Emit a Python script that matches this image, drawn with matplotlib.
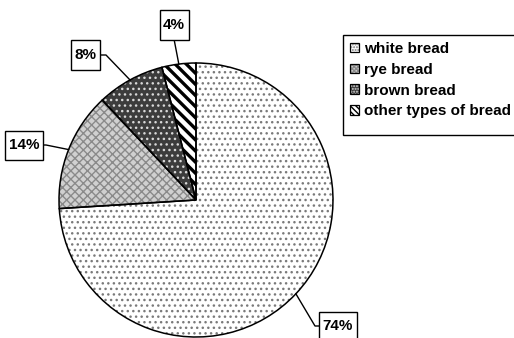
import numpy as np
import matplotlib
matplotlib.use("Agg")
import matplotlib.pyplot as plt
from matplotlib.patches import Patch, Rectangle

# Bread consumption shares
categories = ["white bread", "rye bread", "brown bread", "other types of bread"]
shares = [74, 14, 8, 4]
pct_labels = ["74%", "14%", "8%", "4%"]

# Fill styles: (face colour, hatch colour, hatch pattern)
styles = [
    ("white", "#7a7a7a", "..."),
    ("#d0d0d0", "#8a8a8a", "xxxx"),
    ("#3c3c3c", "#d8d8d8", "..."),
    ("white", "black", "\\\\\\"),
]

plt.rcParams["font.family"] = ["Liberation Sans", "DejaVu Sans"]
plt.rcParams["font.weight"] = "bold"

W, H = 514, 338
fig = plt.figure(figsize=(W / 100, H / 100), dpi=100)
ax = fig.add_axes([0, 0, 1, 1])

CX, CY, R = 196, 200, 137


def P(x, y):
    """Pixel position (from top-left) to data coordinates."""
    return (x - CX) / R, (CY - y) / R


def lims():
    ax.set_xlim(-CX / R, (W - CX) / R)
    ax.set_ylim(-(H - CY) / R, CY / R)
    ax.set_aspect("equal")


lims()
ax.axis("off")

# Hatched fill layer, one wedge per style
for i, (fc, hc, hatch) in enumerate(styles):
    with plt.rc_context({"hatch.linewidth": 2.4 if i == 3 else 1.0}):
        wedges, _ = ax.pie(shares, startangle=90, counterclock=False, radius=1,
                           wedgeprops=dict(linewidth=0))
    for j, w in enumerate(wedges):
        if j != i:
            w.remove()
        else:
            w.set_facecolor(fc)
            w.set_edgecolor(hc)
            w.set_hatch(hatch)
            w.set_linewidth(0)

# Outline layer
ax.pie(shares, startangle=90, counterclock=False, radius=1,
       wedgeprops=dict(fill=False, edgecolor="black", linewidth=1.1))
lims()

# Percentage labels with leader lines
label_pos = [(338, 326), (24, 145), (85, 55), (174, 25)]
line_start = [(321, 326), (41, 145), (98, 55), (174, 39)]
kinks = [(315, 326), (46, 145), (106, 55), None]
box_h = 29  # px

renderer = fig.canvas.get_renderer()
total = sum(shares)
cum = 0
for k, s in enumerate(shares):
    mid = 90 - (cum + s / 2) / total * 360
    cum += s
    ex, ey = np.cos(np.radians(mid)), np.sin(np.radians(mid))
    pts = [P(*line_start[k])]
    if kinks[k] is not None:
        pts.append(P(*kinks[k]))
    pts.append((ex, ey))
    xs, ys = zip(*pts)
    ax.plot(xs, ys, color="black", linewidth=1.0, zorder=3)
    tx, ty = P(*label_pos[k])
    t = ax.text(tx, ty, pct_labels[k], ha="center", va="center", fontsize=11,
                fontweight="bold", zorder=5)
    bb = t.get_window_extent(renderer)
    bw = bb.width + 7
    ax.add_patch(Rectangle((tx - bw / 2 / R, ty - box_h / 2 / R), bw / R, box_h / R,
                           facecolor="white", edgecolor="black", linewidth=1.0,
                           zorder=4))

# Legend frame (runs off the right edge)
fx0, fy0, fx1, fy1 = 343, 35, 530, 135
fig.patches.append(Rectangle((fx0 / W, 1 - fy1 / H), (fx1 - fx0) / W, (fy1 - fy0) / H,
                             transform=fig.transFigure, facecolor="white",
                             edgecolor="black", linewidth=1.0, zorder=1))

handles = []
for i, (fc, hc, hatch) in enumerate(styles):
    fill = Patch(facecolor=fc, edgecolor=hc, hatch=hatch + hatch, linewidth=0)
    edge = Patch(facecolor="none", edgecolor="black", linewidth=0.9)
    handles.append((fill, edge))

leg = fig.legend(handles, categories, loc="upper left",
                 bbox_to_anchor=(343 / W, 1 - 35 / H),
                 prop=dict(family="Liberation Sans", weight="bold", size=11),
                 frameon=False,
                 handlelength=0.6, handleheight=0.6, handletextpad=0.3,
                 labelspacing=0.45, borderpad=0.45, borderaxespad=0)
leg.set_zorder(2)

fig.savefig("out.png", dpi=100)
